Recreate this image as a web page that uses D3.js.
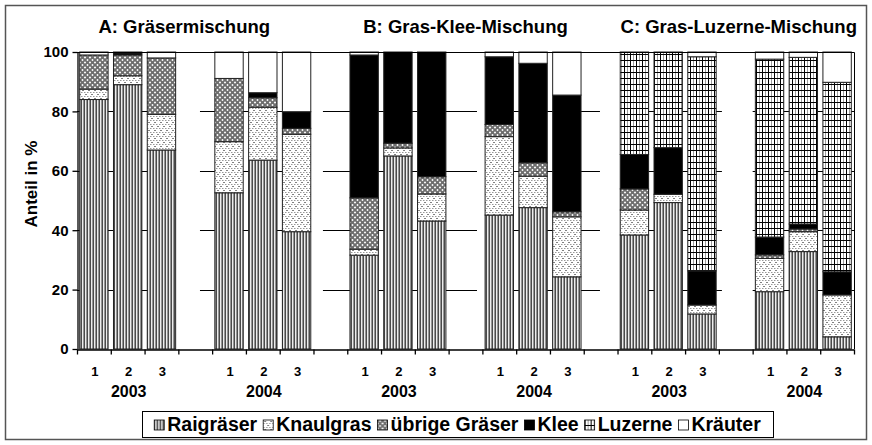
<!DOCTYPE html>
<html><head><meta charset="utf-8">
<script src="https://cdn.jsdelivr.net/npm/d3@7"></script>
<style>
body{margin:0;background:#fff}
svg{display:block}
text{font-family:"Liberation Sans",Arial,sans-serif;font-weight:bold;fill:#000}
</style>
</head><body>
<svg id="c" width="872" height="445"></svg>
<script>
// ---------- DATA ----------
const panels = ["A: Gräsermischung", "B: Gras-Klee-Mischung", "C: Gras-Luzerne-Mischung"];
const years = ["2003", "2004"];
const variants = ["1", "2", "3"];
const seriesNames = ["Raigräser", "Knaulgras", "übrige Gräser", "Klee", "Luzerne", "Kräuter"];
// order: A2003(1,2,3), A2004(1,2,3), B2003, B2004, C2003, C2004
const raigraeser = [84, 89, 67, 52.6, 63.6, 39.5, 31.6, 65, 43.1, 45.1, 47.6, 24.3, 38.4, 49.3, 11.8, 19.3, 32.8, 4.1];
const knaulgras  = [3.5, 3, 12, 17.2, 17.8, 32.8, 2, 2.7, 9.1, 26.4, 10.6, 20.2, 8.4, 2.8, 3, 11.2, 6.7, 14.1];
const uebrige    = [11.5, 7, 19, 21.3, 3.2, 2, 17.3, 1.6, 5.8, 4.1, 4.5, 1.7, 7.1, 0, 0, 1.2, 0.9, 0];
const klee       = [0, 0.7, 0, 0, 1.7, 5.6, 48.1, 30.7, 42, 22.8, 33.5, 39.3, 11.6, 15.7, 11.5, 6, 1.7, 7.8];
const luzerne    = [0, 0, 0, 0, 0, 0, 0, 0, 0, 0, 0, 0, 34.5, 32.2, 72.1, 59.9, 56.1, 63.8];
const kraeuter   = [1, 0.3, 2, 8.9, 13.7, 20.1, 1, 0, 0, 1.6, 3.8, 14.5, 0, 0, 1.6, 2.4, 1.8, 10.2];
const yTicks = [0, 20, 40, 60, 80, 100];
const yTitle = "Anteil in %";

// ---------- LAYOUT ----------
const svg = d3.select("#c");
const L = 77, R = 854, T = 52, B = 349;

const seriesArrays = [raigraeser, knaulgras, uebrige, klee, luzerne, kraeuter];
const rows = raigraeser.map((_, i) => {
  const o = {};
  seriesNames.forEach((s, k) => o[s] = seriesArrays[k][i]);
  return o;
});

// slots: bars and gap slots
const slots = [];
let bi = 0;
panels.forEach((p, pi) => {
  years.forEach((yr, yi) => {
    variants.forEach((v, vi) => { slots.push({bar: true, i: bi++, pi, yi, vi, v}); });
    if (!(pi === panels.length - 1 && yi === years.length - 1)) slots.push({bar: false});
  });
});
const nSlots = slots.length;

const x = d3.scaleBand().domain(d3.range(nSlots)).range([L, R]).paddingInner(0.16).paddingOuter(0.08);
const xl = d3.scaleLinear().domain([0, nSlots]).range([L, R]);
const y = d3.scaleLinear().domain([0, 100]).range([B, T]);

// patterns
const defs = svg.append("defs");
function pat(id, w, h) {
  return defs.append("pattern").attr("id", id).attr("patternUnits", "userSpaceOnUse")
    .attr("width", w).attr("height", h);
}
let p = pat("pRai", 3, 3);
p.append("rect").attr("width", 3).attr("height", 3).attr("fill", "#ececec");
p.append("rect").attr("x", 0).attr("width", 1).attr("height", 3).attr("fill", "#4a4a4a");
p.append("rect").attr("x", 2).attr("width", 1).attr("height", 3).attr("fill", "#959595");

p = pat("pKnaul", 6, 8);
p.append("rect").attr("width", 6).attr("height", 8).attr("fill", "#fff");
[[0,0],[3,0],[0,4],[3,4]].forEach(d => p.append("rect").attr("x", d[0]).attr("y", d[1]).attr("width", 1.5).attr("height", 1).attr("fill", "#999"));
[[4.5,2],[1.5,6]].forEach(d => p.append("rect").attr("x", d[0]).attr("y", d[1]).attr("width", 1).attr("height", 1).attr("fill", "#000"));

p = pat("pUebr", 5, 5);
p.append("rect").attr("width", 5).attr("height", 5).attr("fill", "#fff");
p.append("path").attr("d", "M0,0L5,5M5,0L0,5").attr("stroke", "#6e6e6e").attr("stroke-width", 1.9);

p = pat("pLuz", 6, 6);
p.append("rect").attr("width", 6).attr("height", 6).attr("fill", "#fff");
p.append("rect").attr("x", 3).attr("width", 1).attr("height", 6).attr("fill", "#9a9a9a");
p.append("rect").attr("x", 0).attr("width", 1).attr("height", 6).attr("fill", "#000");
p.append("rect").attr("y", 0).attr("width", 6).attr("height", 1).attr("fill", "#000");

const fills = {"Raigräser": "url(#pRai)", "Knaulgras": "url(#pKnaul)", "übrige Gräser": "url(#pUebr)",
  "Klee": "#000", "Luzerne": "url(#pLuz)", "Kräuter": "#fff"};

// outer border
svg.append("rect").attr("x", 5.5).attr("y", 5.5).attr("width", 861).attr("height", 434)
  .attr("fill", "none").attr("stroke", "#555").attr("stroke-width", 1.5);

// gridlines
const grid = svg.append("g");
yTicks.filter(t => t > 0 && t < 100).forEach(t => {
  grid.append("line").attr("x1", L).attr("x2", R).attr("y1", Math.round(y(t)) + 0.5).attr("y2", Math.round(y(t)) + 0.5)
    .attr("stroke", "#000").attr("stroke-width", 1);
});
// partial masking of gridlines in gap slots (as in the original)
const gapMask = [[-0.1, 0.64], [-0.1, 0.28], [0.84, 1.12], [0.48, 1.12], [0.09, 1.0]];
const gapSlots = slots.map((s, i) => s.bar ? -1 : i).filter(i => i >= 0);
gapSlots.forEach((gi, k) => {
  const m = gapMask[k];
  svg.append("rect").attr("x", xl(gi + m[0])).attr("width", xl(gi + m[1]) - xl(gi + m[0]))
    .attr("y", T + 2).attr("height", B - T - 4).attr("fill", "#fff");
});

// bars
const stack = d3.stack().keys(seriesNames)(rows);
const barSlots = slots.map((s, i) => ({...s, slot: i})).filter(s => s.bar);
const gBars = svg.append("g");
stack.forEach(layer => {
  gBars.append("g").selectAll("rect").data(layer.map((d, i) => ({d, s: barSlots[i]})).filter(e => e.d[1] - e.d[0] > 0))
    .join("rect")
    .attr("x", e => x(e.s.slot))
    .attr("width", x.bandwidth())
    .attr("y", e => y(e.d[1]))
    .attr("height", e => y(e.d[0]) - y(e.d[1]))
    .attr("fill", fills[layer.key])
    .attr("stroke", "#222").attr("stroke-width", 1);
});

// plot border top + right
svg.append("path").attr("d", `M${L},${T + 0.5}H${R + 0.5}V${B}`).attr("fill", "none").attr("stroke", "#000").attr("stroke-width", 1);

// y axis
const ya = svg.append("g").attr("transform", `translate(${L + 0.5},0)`)
  .call(d3.axisLeft(y).tickValues(yTicks).tickSize(5).tickSizeOuter(0).tickPadding(4));
ya.selectAll("path,line").attr("stroke", "#000").attr("stroke-width", 1.3);
ya.selectAll("text").attr("font-size", 15).attr("font-family", null).attr("font-weight", "bold");

// x axis
const xa = svg.append("g").attr("transform", `translate(0,${B + 0.5})`)
  .call(d3.axisBottom(xl).tickValues(d3.range(nSlots + 1)).tickFormat("").tickSize(5).tickSizeOuter(0));
xa.selectAll("path,line").attr("stroke", "#000").attr("stroke-width", 1.3);

// category labels
svg.append("g").selectAll("text").data(barSlots).join("text")
  .attr("x", s => x(s.slot) + x.bandwidth() / 2 + 1).attr("y", 376)
  .attr("text-anchor", "middle").attr("font-size", 13).text(s => s.v);
// year labels (under middle bar of each group)
svg.append("g").selectAll("text").data(barSlots.filter(s => s.vi === 1)).join("text")
  .attr("x", s => x(s.slot) + x.bandwidth() / 2 + 1).attr("y", 397)
  .attr("text-anchor", "middle").attr("font-size", 16).text(s => years[s.yi]);

// panel titles
const titleOffset = [-11, 0, 3];
panels.forEach((t, pi) => {
  const mids = barSlots.filter(s => s.pi === pi && s.vi === 1).map(s => x(s.slot) + x.bandwidth() / 2);
  svg.append("text").attr("x", d3.mean(mids) + titleOffset[pi]).attr("y", 33)
    .attr("text-anchor", "middle").attr("font-size", 18.5).text(t);
});

// y title
svg.append("text").attr("transform", `translate(37,${184}) rotate(-90)`)
  .attr("text-anchor", "middle").attr("font-size", 17).text(yTitle);

// legend
const lg = svg.append("g");
const lgBox = lg.append("rect").attr("fill", "#fff").attr("stroke", "#000").attr("stroke-width", 1);
const items = [];
seriesNames.forEach(s => {
  const g = lg.append("g");
  g.append("rect").attr("x", 0).attr("y", -11).attr("width", 10).attr("height", 10)
    .attr("fill", fills[s]).attr("stroke", "#000").attr("stroke-width", 0.8);
  const t = g.append("text").attr("x", 13).attr("y", 0).attr("font-size", 19.5).text(s);
  const w = 13 + t.node().getComputedTextLength();
  items.push({g, w});
});
const gapItem = 6;
const total = d3.sum(items, d => d.w) + gapItem * (items.length - 1);
const boxL = 142, boxR = 773;
let px = (boxL + boxR) / 2 - total / 2;
items.forEach(it => { it.g.attr("transform", `translate(${px},431)`); px += it.w + gapItem; });
lgBox.attr("x", boxL + 0.5).attr("y", 411.5).attr("width", boxR - boxL).attr("height", 26);
</script>
</body></html>
